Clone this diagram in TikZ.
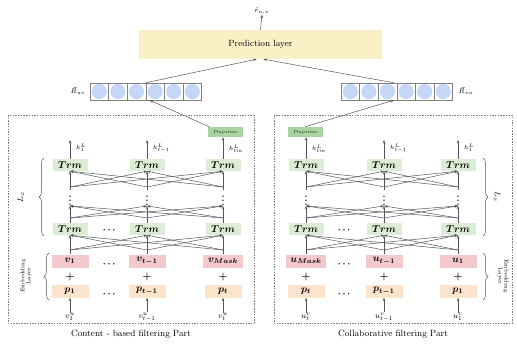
\documentclass[tikz,border=0pt]{standalone}
\usepackage{amsmath,bm}
\usetikzlibrary{arrows.meta,decorations.pathreplacing}
\definecolor{predY}{HTML}{FBEFC6}
\definecolor{trmG}{HTML}{DCEDD5}
\definecolor{projG}{HTML}{A9D5A1}
\definecolor{vPink}{HTML}{F3C9CC}
\definecolor{pPeach}{HTML}{FCE3CC}
\definecolor{circB}{HTML}{C6D6F6}
\definecolor{lineC}{HTML}{555555}
\begin{document}
\begin{tikzpicture}[x=1pt,y=-1pt,
  arr/.style={-{Stealth[length=3.5pt,width=2.6pt]}, draw=lineC, line width=0.5pt},
  ln/.style={draw=lineC, line width=0.5pt},
  trm/.style={fill=trmG, minimum width=35pt, minimum height=12pt, inner sep=0pt, font=\fontsize{10}{10}\selectfont},
  proj/.style={fill=projG, minimum width=35pt, minimum height=10pt, inner sep=0pt, font=\fontsize{4.5}{5}\selectfont\itshape},
  emb/.style={fill=vPink, minimum width=37pt, minimum height=13pt, inner sep=0pt, font=\fontsize{10}{10}\selectfont},
  posb/.style={fill=pPeach, minimum width=37pt, minimum height=13pt, inner sep=0pt, font=\fontsize{10}{10}\selectfont},
  dotsn/.style={inner sep=0pt, font=\fontsize{9}{9}\selectfont},
  hlab/.style={inner sep=0pt, anchor=west, font=\fontsize{6}{6}\selectfont},
  inlab/.style={inner sep=0pt, font=\fontsize{8}{8}\selectfont},
  plus/.style={inner sep=0pt, font=\fontsize{10}{10}\selectfont},
  cell/.style={draw=gray, fill=white, minimum width=18.6pt, minimum height=17pt, inner sep=0pt,
    path picture={\fill[circB] (path picture bounding box.center) circle (7.6pt);}},
  dashbox/.style={draw=gray, dash pattern=on 1.5pt off 1.2pt, line width=0.6pt},
  brc/.style={decorate, decoration={brace, amplitude=5pt}, draw=lineC, line width=0.5pt},
  sidelab/.style={inner sep=0pt, font=\fontsize{5.5}{6}\selectfont, align=center},
  caption/.style={inner sep=0pt, font=\fontsize{9}{10}\selectfont}
]
\useasboundingbox (0,0) rectangle (517,348);

% ---------- top ----------
\node[fill=predY, minimum width=243pt, minimum height=29pt, inner sep=0pt, font=\fontsize{9}{10}\selectfont] (pred) at (260.5,44.5) {Prediction layer};
\node[inner sep=0pt, font=\fontsize{7}{7}\selectfont] (rhat) at (262,11) {$\hat{r}_{u,v}$};
\draw[arr] (pred.north) -- (rhat.south);

\foreach \k in {0,...,5}{
  \node[cell] (cL\k) at (99.3+18.6*\k,91.5) {};
  \node[cell] (cR\k) at (350.3+18.6*\k,91.5) {};
}
\node[inner sep=0pt, font=\fontsize{7}{7}\selectfont] (Ruv) at (78,91) {$\vec{R}_{uv}$};
\node[inner sep=0pt, font=\fontsize{7}{7}\selectfont] (Rvu) at (466,91) {$\vec{R}_{vu}$};
\draw[arr] (cL3.north west) -- ([xshift=-4pt]pred.south);
\draw[arr] ([xshift=-3pt]cR2.north east) -- ([xshift=3pt]pred.south);

% ---------- dashed boxes ----------
\draw[dashbox] (8,115) rectangle (254,323);
\draw[dashbox] (274,115) rectangle (512,323);
\node[caption] (capL) at (131,334) {Content - based filtering Part};
\node[caption] (capR) at (393,334) {Collaborative filtering Part};

% ---------- left part ----------
\def\xa{70}\def\xb{147}\def\xc{223}
\foreach \i/\x in {1/\xa,2/\xb,3/\xc}{
  \node[trm] (tL\i) at (\x,165) {$\bm{Trm}$};
  \node[trm] (bL\i) at (\x,229) {$\bm{Trm}$};
  \node[dotsn] (dL\i) at (\x,198) {$\bm{\vdots}$};
  \coordinate (fL\i) at (\x,187);
  \coordinate (gL\i) at (\x,218);
  \coordinate (eL\i) at (\x,250);
}
\node[emb] (vL1) at (\xa,261) {$\bm{v_1}$};
\node[emb] (vL2) at (\xb,261) {$\bm{v_{t-1}}$};
\node[emb, minimum width=40pt] (vL3) at (\xc,261) {$\bm{v_{Mask}}$};
\node[posb] (pL1) at (\xa,291) {$\bm{p_1}$};
\node[posb] (pL2) at (\xb,291) {$\bm{p_{t-1}}$};
\node[posb] (pL3) at (\xc,291) {$\bm{p_t}$};
\node[inlab] (iL1) at (\xa,317) {$v^u_1$};
\node[inlab] (iL2) at (\xb,317) {$v^u_{t-1}$};
\node[inlab] (iL3) at (\xc,317) {$v^u_t$};
\foreach \i/\x in {1/\xa,2/\xb,3/\xc}{
  \node[plus] (sL\i) at (\x,277) {$\bm{+}$};
  \draw[arr] (iL\i.north) -- (pL\i.south);
  \draw[ln] (dL\i.north) -- (fL\i);
  \draw[ln] (bL\i.north) -- (gL\i);
  \draw[ln] (vL\i.north) -- (eL\i);
  \foreach \j in {1,2,3}{
    \draw[arr] (fL\i) -- (tL\j.south);
    \draw[arr] (gL\i) -- (dL\j.south);
    \draw[arr] (eL\i) -- (bL\j.south);
  }
}
\node[proj] (projL) at (225,132) {Projection};
\node[hlab] (hL1) at (76,148) {$h^L_1$};
\node[hlab] (hL2) at (153,148) {$h^L_{t-1}$};
\node[hlab] (hL3) at (229,149) {$h^L_{tm}$};
\coordinate (aL1) at (\xa,140);
\coordinate (aL2) at (\xb,140);
\draw[arr] (tL1.north) -- (aL1);
\draw[arr] (tL2.north) -- (aL2);
\draw[arr] (tL3.north) -- (tL3.north |- projL.south);
\draw[arr] ([xshift=2pt]projL.north west) -- ([xshift=4pt]cL3.south west);
\foreach \n/\y in {a/230,c/264,e/294}{
  \node[dotsn] (oL\n) at (110,\y) {$\bm{\cdots}$};
}
\draw[brc] (44,236) -- (44,158);
\node[sidelab, rotate=90, font=\fontsize{8}{8}\selectfont] (LxL) at (21,197) {$L_x$};
\draw[brc] (49,300) -- (49,253);
\node[sidelab, rotate=90] (ELL) at (26,276) {Embedding\\Layer};

% ---------- right part ----------
\def\xd{306}\def\xe{384}\def\xf{458}
\foreach \i/\x in {1/\xd,2/\xe,3/\xf}{
  \node[trm] (tR\i) at (\x,165) {$\bm{Trm}$};
  \node[trm] (bR\i) at (\x,229) {$\bm{Trm}$};
  \node[dotsn] (dR\i) at (\x,198) {$\bm{\vdots}$};
  \coordinate (fR\i) at (\x,187);
  \coordinate (gR\i) at (\x,218);
  \coordinate (eR\i) at (\x,250);
}
\node[emb, minimum width=40pt] (vR1) at (\xd,261) {$\bm{u_{Mask}}$};
\node[emb] (vR2) at (\xe,261) {$\bm{u_{t-1}}$};
\node[emb] (vR3) at (\xf,261) {$\bm{u_1}$};
\node[posb] (pR1) at (\xd,291) {$\bm{p_t}$};
\node[posb] (pR2) at (\xe,291) {$\bm{p_{t-1}}$};
\node[posb] (pR3) at (\xf,291) {$\bm{p_1}$};
\node[inlab] (iR1) at (\xd,317) {$u^v_t$};
\node[inlab] (iR2) at (\xe,317) {$u^v_{t-1}$};
\node[inlab] (iR3) at (\xf,317) {$u^v_1$};
\foreach \i/\x in {1/\xd,2/\xe,3/\xf}{
  \node[plus] (sR\i) at (\x,277) {$\bm{+}$};
  \draw[arr] (iR\i.north) -- (pR\i.south);
  \draw[ln] (dR\i.north) -- (fR\i);
  \draw[ln] (bR\i.north) -- (gR\i);
  \draw[ln] (vR\i.north) -- (eR\i);
  \foreach \j in {1,2,3}{
    \draw[arr] (fR\i) -- (tR\j.south);
    \draw[arr] (gR\i) -- (dR\j.south);
    \draw[arr] (eR\i) -- (bR\j.south);
  }
}
\node[proj] (projR) at (305,132) {Projection};
\node[hlab] (hR1) at (312,149) {$h^L_{tm}$};
\node[hlab] (hR2) at (390,148) {$h^L_{t-1}$};
\node[hlab] (hR3) at (464,148) {$h^L_1$};
\coordinate (aR2) at (\xe,140);
\coordinate (aR3) at (\xf,140);
\draw[arr] (tR1.north) -- (tR1.north |- projR.south);
\draw[arr] (tR2.north) -- (aR2);
\draw[arr] (tR3.north) -- (aR3);
\draw[arr] (projR.north) -- ([xshift=-3pt]cR2.south east);
\foreach \n/\y in {a/230,c/264,e/294}{
  \node[dotsn] (oR\n) at (345,\y) {$\bm{\cdots}$};
}
\draw[brc] (483,158) -- (483,236);
\node[sidelab, rotate=-90, font=\fontsize{8}{8}\selectfont] (LxR) at (497,197) {$L_x$};
\draw[brc] (483,253) -- (483,300);
\node[sidelab, rotate=-90] (ELR) at (503,276) {Embedding\\Layer};
\end{tikzpicture}
\end{document}
